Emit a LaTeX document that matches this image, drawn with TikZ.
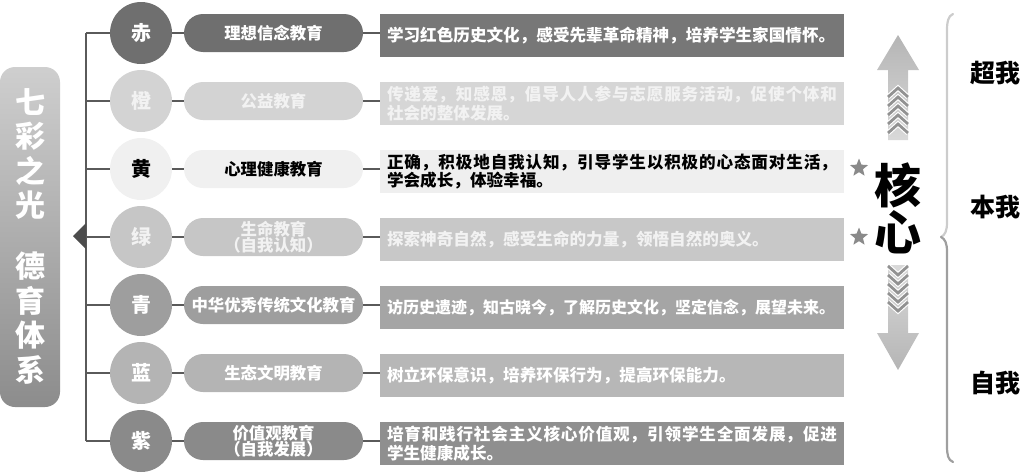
\documentclass[tikz,border=0pt]{standalone}
\usepackage{fontspec}
\setmainfont{Noto Sans CJK SC}
\XeTeXlinebreaklocale "zh"
\XeTeXlinebreakskip = 0pt plus 2pt minus 1pt
\usepackage{xcolor}
\usetikzlibrary{positioning,shapes.geometric,arrows.meta}

\definecolor{linegray}{HTML}{5A5A5A}
\definecolor{redc}{HTML}{6F6F6F}
\definecolor{redb}{HTML}{777777}
\definecolor{orangec}{HTML}{D3D3D3}
\definecolor{orangeb}{HTML}{D6D6D6}
\definecolor{yellowc}{HTML}{F0F0F0}
\definecolor{yellowb}{HTML}{EFEFEF}
\definecolor{greenc}{HTML}{C6C6C6}
\definecolor{greenb}{HTML}{C8C8C8}
\definecolor{cyanc}{HTML}{9E9E9E}
\definecolor{cyanb}{HTML}{A5A5A5}
\definecolor{bluec}{HTML}{B4B4B4}
\definecolor{blueb}{HTML}{B7B7B7}
\definecolor{purplec}{HTML}{8A8A8A}
\definecolor{purpleb}{HTML}{8F8F8F}
\definecolor{fadetext}{HTML}{F2F2F2}
\definecolor{chevc}{HTML}{929292}
\definecolor{stargray}{HTML}{8A8A8A}

\begin{document}
\begin{tikzpicture}[
    x=1pt, y=-1pt,
    dot/.style={circle, minimum size=62pt, inner sep=0pt, font=\bfseries\fontsize{20}{20}\selectfont},
    pill/.style={rectangle, rounded corners=19pt, minimum width=179pt, minimum height=38pt,
        inner sep=0pt, align=center, font=\bfseries\fontsize{16.4}{16.5}\selectfont},
    descbox/.style={rectangle, minimum width=464pt, minimum height=43pt, text width=450pt,
        inner xsep=7pt, inner ysep=0pt, align=justify, font=\bfseries\fontsize{16.6}{18.5}\selectfont},
    branch/.style={draw=linegray, line width=1.6pt},
    bigchar/.style={text=white, align=center, font=\bfseries\fontsize{30}{34.5}\selectfont},
    self/.style={font=\bfseries\fontsize{25}{25}\selectfont},
    mark star/.style={star, star points=5, star point ratio=2.3, fill=stargray, minimum size=19pt, inner sep=0pt}
]
\useasboundingbox (0,0) rectangle (1024,474);

% title bar
\node[rectangle, rounded corners=15pt, minimum width=60pt, minimum height=340pt,
    top color=gray!38, bottom color=gray!110!black!100] (title) at (30,237) {};
\node[bigchar] (title top) at (30,154) {七\\彩\\之\\光};
\node[bigchar] (title bot) at (30,318) {德\\育\\体\\系};

% the seven rows
\foreach \i/\ch/\topic/\desc/\cc/\bc/\tc in {
    1/赤/理想信念教育/{\parfillskip=0pt 学习红色历史文化，感受先辈革命精神，培养学生家国情怀。}/redc/redb/white,
    2/橙/公益教育/{传递爱，知感恩，倡导人人参与志愿服务活动，促使个体和\linebreak 社会的整体发展。}/orangec/orangeb/fadetext,
    3/黄/心理健康教育/{正确，积极地自我认知，引导学生以积极的心态面对生活，\linebreak 学会成长，体验幸福。}/yellowc/yellowb/black,
    4/绿/{生命教育\\（自我认知）}/{探索神奇自然，感受生命的力量，领悟自然的奥义。}/greenc/greenb/fadetext,
    5/青/中华优秀传统文化教育/{\fontsize{16}{18.5}\selectfont\parfillskip=0pt 访历史遗迹，知古晓今，了解历史文化，坚定信念，展望未来。}/cyanc/cyanb/white,
    6/蓝/生态文明教育/{树立环保意识，培养环保行为，提高环保能力。}/bluec/blueb/white,
    7/紫/{价值观教育\\（自我发展）}/{培育和践行社会主义核心价值观，引领学生全面发展，促进\linebreak 学生健康成长。}/purplec/purpleb/white}
{
    \coordinate (j\i) at (86,{33+(\i-1)*68});
    \node[dot, fill=\cc, text=\tc] (c\i) at (141,{33+(\i-1)*68}) {\ch};
    \node[pill, fill=\cc, text=\tc] (p\i) at (273.5,{33+(\i-1)*68}) {\topic};
    \node[descbox, fill=\bc, text=\tc] (d\i) at (612,{35.5+(\i-1)*68}) {\desc};
    \draw[branch] (j\i) -- (c\i.west);
    \draw[branch] (c\i.east) -- (p\i.west);
    \draw[branch] (p\i.east) -- (p\i.east -| d\i.west);
}
\draw[branch] (j1) -- (j7);
\fill[linegray!85!black] (73,236) -- (86,223) -- (86,249) -- cycle;

% core arrows
\shade[top color=gray!58, bottom color=gray!30]
    (898,35) -- (919,70) -- (908,70) -- (908,140) -- (888,140) -- (888,70) -- (877,70) -- cycle;
\shade[top color=gray!30, bottom color=gray!58]
    (888,265) -- (908,265) -- (908,333) -- (919,333) -- (898,370) -- (877,333) -- (888,333) -- cycle;
\foreach \a in {88,97,106,115,124} {
    \draw[white, line width=5pt] (888,\a+9) -- (898,\a) -- (908,\a+9);
    \draw[chevc, line width=2.8pt] (888,\a+9) -- (898,\a) -- (908,\a+9);
}
\foreach \a in {311,302,293,284,275} {
    \draw[white, line width=5pt] (888,\a-9) -- (898,\a) -- (908,\a-9);
    \draw[chevc, line width=2.8pt] (888,\a-9) -- (898,\a) -- (908,\a-9);
}
\node[align=center, font=\bfseries\fontsize{47}{47}\selectfont] (core) at (898,208) {核\\心};
\node[mark star] (star1) at (859,168) {};
\node[mark star] (star2) at (859,237) {};

% brace and levels
\draw[gray!40, line width=2.2pt, line cap=round]
    (953,14) .. controls (948,16) and (947,22) .. (947,30) -- (947,222)
    .. controls (947,231) and (945,235) .. (941,237);
\draw[gray!75, line width=2.2pt, line cap=round]
    (941,237) .. controls (945,239) and (947,243) .. (947,252) -- (947,446)
    .. controls (947,455) and (948,460) .. (953,462);
\node[self] (super ego) at (995,73) {超我};
\node[self] (id) at (995,207) {本我};
\node[self] (ego) at (995,383) {自我};
\end{tikzpicture}
\end{document}
